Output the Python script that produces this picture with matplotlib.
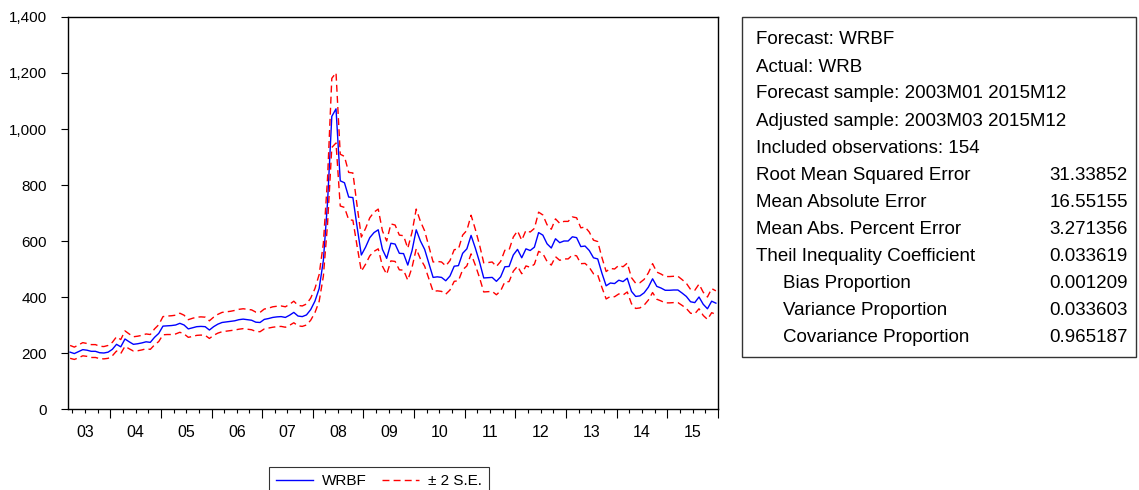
"""
Forecast of WRBF (monthly, 2003M03-2015M12) with +/- 2 S.E. band
and the forecast evaluation box, EViews style.
"""
import numpy as np
import matplotlib.pyplot as plt
from matplotlib.ticker import FixedLocator, FixedFormatter, FuncFormatter
from matplotlib.patches import Rectangle

plt.rcParams['font.family'] = ['Liberation Sans', 'DejaVu Sans']

# forecast values, 2003M03 .. 2015M12 (154 months)
wrbf = [203, 198, 205, 212, 210, 206, 206, 201, 200, 203,
        213, 231, 222, 250, 240, 231, 233, 236, 240, 238, 256, 270,
        296, 297, 298, 300, 306, 300, 286, 290, 294, 295, 294, 282,
        294, 303, 309, 311, 313, 315, 319, 321, 319, 317, 310, 309,
        320, 323, 327, 329, 330, 327, 335, 345, 332, 330, 336, 355,
        385, 430, 530, 740, 1045, 1072, 815, 808, 757, 755, 650, 550,
        578, 612, 630, 640, 570, 538, 592, 589, 556, 555, 514, 565,
        640, 600, 570, 520, 470, 472, 470, 458, 475, 510, 512, 556,
        572, 620, 575, 525, 468, 469, 470, 456, 472, 508, 509, 550,
        570, 540, 572, 566, 578, 630, 621, 590, 575, 608, 594, 600,
        600, 615, 612, 580, 582, 566, 540, 536, 485, 440, 450, 448,
        460, 455, 467, 420, 402, 404, 415, 435, 465, 438, 432, 424,
        424, 425, 425, 414, 402, 383, 380, 400, 374, 358, 385, 378]

upper = [227, 221, 229, 237, 234, 230, 230, 224, 223, 227,
         238, 258, 248, 279, 268, 258, 260, 263, 268, 266, 286, 301,
         330, 332, 333, 335, 342, 335, 319, 324, 328, 329, 328, 315,
         328, 338, 345, 347, 349, 352, 356, 358, 356, 354, 346, 345,
         357, 360, 365, 367, 368, 365, 374, 385, 370, 368, 375, 396,
         430, 480, 591, 826, 1181, 1201, 910, 902, 845, 843, 725, 614,
         645, 683, 703, 714, 636, 600, 661, 657, 621, 619, 574, 631,
         714, 670, 636, 580, 525, 527, 525, 511, 530, 569, 571, 621,
         638, 692, 642, 586, 522, 523, 525, 509, 527, 567, 568, 614,
         636, 603, 638, 632, 645, 703, 693, 658, 642, 679, 663, 670,
         670, 686, 683, 647, 650, 632, 603, 598, 541, 491, 502, 500,
         513, 508, 521, 469, 449, 451, 463, 486, 519, 489, 482, 473,
         473, 474, 474, 462, 449, 427, 424, 446, 417, 400, 430, 422]

lower = [181, 177, 183, 190, 188, 184, 184, 180, 179, 181,
         190, 207, 198, 224, 215, 207, 208, 211, 215, 213, 229, 241,
         265, 266, 266, 268, 274, 268, 256, 259, 263, 264, 263, 252,
         263, 271, 276, 278, 280, 282, 285, 287, 285, 283, 277, 276,
         286, 289, 292, 294, 295, 292, 299, 308, 297, 295, 300, 317,
         344, 384, 474, 662, 934, 950, 725, 720, 676, 674, 581, 492,
         517, 547, 563, 572, 510, 481, 529, 527, 497, 496, 460, 505,
         572, 536, 510, 465, 420, 422, 420, 410, 425, 456, 458, 497,
         511, 554, 514, 469, 418, 419, 420, 408, 422, 454, 455, 492,
         510, 483, 511, 506, 517, 563, 555, 527, 514, 544, 531, 536,
         536, 550, 547, 519, 520, 506, 483, 479, 434, 393, 402, 401,
         411, 407, 418, 376, 359, 361, 371, 389, 416, 392, 386, 379,
         379, 380, 380, 370, 359, 342, 340, 358, 334, 320, 344, 338]

years = ['03', '04', '05', '06', '07', '08', '09',
         '10', '11', '12', '13', '14', '15']

stats_lines = ['Forecast: WRBF',
               'Actual: WRB',
               'Forecast sample: 2003M01 2015M12',
               'Adjusted sample: 2003M03 2015M12',
               'Included observations: 154']
stats_names = ['Root Mean Squared Error', 'Mean Absolute Error',
               'Mean Abs. Percent Error', 'Theil Inequality Coefficient',
               '   Bias Proportion', '   Variance Proportion',
               '   Covariance Proportion']
stats_values = ['31.33852', '16.55155', '3.271356', '0.033619',
                '0.001209', '0.033603', '0.965187']

W, H = 1139, 490
fig = plt.figure(figsize=(W / 100, H / 100), dpi=100)
ax = fig.add_axes([68 / W, 1 - 409 / H, 650 / W, 392 / H])

t = np.arange(len(wrbf))
dash = (0, (5, 3))
l1, = ax.plot(t, wrbf, color='#0000ff', lw=1.0)
l2, = ax.plot(t, upper, color='#ff0000', lw=1.0, ls=dash)
ax.plot(t, lower, color='#ff0000', lw=1.0, ls=dash)

ax.set_xlim(-0.5, len(wrbf) - 0.5)
ax.set_ylim(0, 1400)

# year boundaries (Jan) -> long ticks, quarters -> short ticks
n = len(wrbf)
first_jan = 10  # 2003M03 + 10 months
year_edges = [first_jan - 0.5 + 12 * k for k in range(12)] + [n - 0.5]
quarter_edges = [q - 0.5 for q in range(1, n) if (q - first_jan) % 3 == 0]
quarter_edges = [q for q in quarter_edges if q not in year_edges]
mid_year = [first_jan - 0.5 - 6 + 12 * k for k in range(len(years))]
minor_labels = []
for q in quarter_edges:
    if q in mid_year:
        minor_labels.append(years[mid_year.index(q)])
    else:
        minor_labels.append('')

ax.xaxis.set_major_locator(FixedLocator(year_edges))
ax.xaxis.set_major_formatter(FixedFormatter([''] * len(year_edges)))
ax.xaxis.set_minor_locator(FixedLocator(quarter_edges))
ax.xaxis.set_minor_formatter(FixedFormatter(minor_labels))
ax.tick_params(axis='x', which='major', length=6.5, width=0.8, direction='out')
ax.tick_params(axis='x', which='minor', length=3, width=0.8, direction='out',
               pad=8.5, labelsize=11.5)

ax.set_yticks(np.arange(0, 1401, 200))
ax.yaxis.set_major_formatter(FuncFormatter(lambda v, p: f'{v:,.0f}'))
ax.tick_params(axis='y', length=5, width=0.8, pad=10, labelsize=11)

for s in ax.spines.values():
    s.set_color('black')
    s.set_linewidth(1.0)

leg = fig.legend([l1, l2], ['WRBF', '± 2 S.E.'], loc='upper center',
                 bbox_to_anchor=(379 / W, 1 - 467 / H), ncol=2,
                 frameon=True, fancybox=False, fontsize=11,
                 handlelength=2.4, handletextpad=0.6, columnspacing=1.0,
                 borderpad=0.45, borderaxespad=0)
leg.get_frame().set_edgecolor('black')
leg.get_frame().set_linewidth(0.8)

# statistics box
fig.patches.append(Rectangle((742 / W, 1 - 357 / H), (1136 - 742) / W,
                             (357 - 17) / H, transform=fig.transFigure,
                             fill=False, edgecolor='#333333', lw=1.0))
y0, dy = 40, 27
for k, txt in enumerate(stats_lines):
    fig.text(756 / W, 1 - (y0 + k * dy) / H, txt, fontsize=13.5,
             va='center', ha='left')
for k, (name, val) in enumerate(zip(stats_names, stats_values)):
    yc = 1 - (y0 + (k + len(stats_lines)) * dy) / H
    x = 783 if name.startswith(' ') else 756
    fig.text(x / W, yc, name.strip(), fontsize=13.5, va='center', ha='left')
    fig.text(1128 / W, yc, val, fontsize=13.5, va='center', ha='right')

fig.savefig('out.png', dpi=100)
